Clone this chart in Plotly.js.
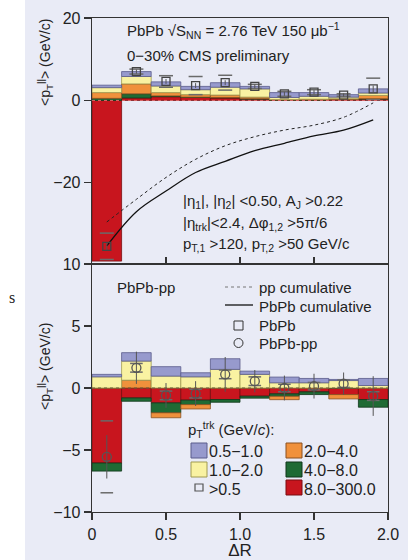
<!DOCTYPE html>
<html>
<head>
<meta charset="utf-8">
<script src="https://cdn.plot.ly/plotly-3.0.1.min.js"></script>
<style>html,body{margin:0;padding:0;background:#fff;}#chart{width:408px;height:560px;}</style>
</head>
<body>
<div id="chart"></div>
<script>
// ---- data ----
const dR = [0.1, 0.3, 0.5, 0.7, 0.9, 1.1, 1.3, 1.5, 1.7, 1.9];
const binLabels = ['0.5\u22121.0', '1.0\u22122.0', '2.0\u22124.0', '4.0\u22128.0', '8.0\u2212300.0'];

// top panel: PbPb, contributions per track-pT bin
const pbRed    = [-39.0, 0.6, 0.9, 0.7, 0.6, 0.3, 0.1, 0.1, 0.2, 0.3];
const pbGreen  = [0.5, 1.0, 0.2, 0.1, 0.1, 0.1, 0.0, 0.0, 0.0, 0.1];
const pbOrange = [1.4, 2.4, 0.8, 0.6, 0.6, 0.4, 0.1, 0.2, 0.2, 0.8];
const pbYellow = [1.2, 1.8, 1.6, 1.2, 1.9, 2.0, 0.5, 0.7, 0.4, 0.6];
const pbBlue   = [0.6, 1.2, 1.0, 0.8, 1.1, 0.6, 1.2, 0.9, 0.6, 1.0];
const pbTotal  = [-35.4, 7.0, 4.6, 3.6, 4.3, 3.4, 1.6, 2.0, 1.3, 2.8];
const pbStat   = [1.0, 0.5, 0.6, 0.6, 0.6, 0.5, 0.5, 0.5, 0.4, 0.8];
const pbSys    = [3.2, 0.6, 1.4, 2.2, 1.8, 0.5, 0.6, 0.6, 0.3, 2.6];
const ppCumul   = [-29.5, -24.0, -18.7, -14.3, -11.0, -8.8, -7.2, -6.0, -4.1, -0.6];
const pbCumul   = [-35.3, -27.0, -22.0, -17.5, -14.8, -12.2, -10.4, -8.6, -7.2, -4.7];

// bottom panel: PbPb - pp
const dRed    = [-6.05, -0.8, -1.2, -0.98, -0.93, -0.66, -0.47, -0.31, -0.53, -0.93];
const dGreen  = [-0.65, -0.27, -0.8, -0.36, -0.22, -0.16, -0.2, -0.22, 0.0, -0.62];
const dOrange = [0.0, 0.63, -0.4, -0.35, 0.0, 0.0, -0.27, 0.0, -0.35, 0.0];
const dYellow = [0.9, 1.54, 0.96, 0.9, 1.5, 1.1, 0.42, 0.42, 0.6, 0.2];
const dBlue   = [0.2, 0.68, 0.76, 0.33, 0.86, 0.26, 0.46, 0.35, 0.09, 0.57];
const dTotal  = [-5.55, 1.63, -0.6, -0.45, 1.1, 0.55, 0.0, 0.15, 0.35, -0.65];
const dStat   = [1.75, 1.3, 1.0, 1.0, 1.4, 0.9, 1.0, 1.0, 0.9, 1.6];
const dSys    = [2.9, 0.35, 0.35, 0.35, 0.35, 0.35, 0.3, 0.3, 0.3, 0.35];

// ---- styles ----
const FONT = 'Liberation Sans, Arial, sans-serif';
const BG = '#e9ebf6';
const TXT = '#222';
const col = {blue:'#979acd', yellow:'#f9f2a2', orange:'#f0913c', green:'#1f6a34', red:'#c8151e'};
const edge = {blue:'#5a5c8c', yellow:'#a09a50', orange:'#8a5020', green:'#10361a', red:'#7a0c10'};
const keys = ['blue', 'yellow', 'orange', 'green', 'red'];

// page geometry helpers (pixel -> paper) for layout decorations only
const L = 92, R = 20, T = 18, B = 48, W = 408, H = 560;
const PW = W - L - R, PH = H - T - B;
const px = p => (p - L) / PW;
const py = p => (H - B - p) / PH;

function bar(y, key, name, xa, ya) {
  return {type:'bar', x:dR, y:y, width:0.2, xaxis:xa, yaxis:ya, name:name,
    marker:{color:col[key], line:{color:edge[key], width:0.8}},
    showlegend:false, hoverinfo:'skip'};
}
const plus = (a,b)=>a.map((v,i)=>v+b[i]);
const minus = (a,b)=>a.map((v,i)=>v-b[i]);

const traces = [
  bar(pbRed, 'red', binLabels[4], 'x', 'y'),
  bar(pbGreen, 'green', binLabels[3], 'x', 'y'),
  bar(pbOrange, 'orange', binLabels[2], 'x', 'y'),
  bar(pbYellow, 'yellow', binLabels[1], 'x', 'y'),
  bar(pbBlue, 'blue', binLabels[0], 'x', 'y'),
  bar(dRed, 'red', binLabels[4], 'x2', 'y2'),
  bar(dGreen, 'green', binLabels[3], 'x2', 'y2'),
  bar(dOrange, 'orange', binLabels[2], 'x2', 'y2'),
  bar(dYellow, 'yellow', binLabels[1], 'x2', 'y2'),
  bar(dBlue, 'blue', binLabels[0], 'x2', 'y2'),
  {type:'scatter', mode:'lines', x:dR, y:ppCumul, xaxis:'x', yaxis:'y', name:'pp cumulative', showlegend:false,
    line:{color:'#222', width:1, dash:'dot', shape:'spline'}, hoverinfo:'skip'},
  {type:'scatter', mode:'lines', x:dR, y:pbCumul, xaxis:'x', yaxis:'y', name:'PbPb cumulative', showlegend:false,
    line:{color:'#111', width:1.3, shape:'spline'}, hoverinfo:'skip'},
  {type:'scatter', mode:'markers', x:dR.concat(dR), y:plus(pbTotal,pbSys).concat(minus(pbTotal,pbSys)),
    xaxis:'x', yaxis:'y', showlegend:false, hoverinfo:'skip',
    marker:{symbol:'line-ew-open', size:10, color:'#6a6a6a', line:{color:'#6a6a6a', width:1.5}}},
  {type:'scatter', mode:'markers', x:dR.concat(dR), y:plus(dTotal,dSys).concat(minus(dTotal,dSys)),
    xaxis:'x2', yaxis:'y2', showlegend:false, hoverinfo:'skip',
    marker:{symbol:'line-ew-open', size:9, color:'#6a6a6a', line:{color:'#6a6a6a', width:1.5}}},
  {type:'scatter', mode:'markers', x:dR, y:pbTotal, xaxis:'x', yaxis:'y', name:'PbPb', showlegend:false,
    error_y:{type:'data', array:pbStat, color:'#555', thickness:1, width:0},
    marker:{symbol:'square-open', size:8, color:'#444', line:{color:'#444', width:1.3}}, hoverinfo:'skip'},
  {type:'scatter', mode:'markers', x:dR, y:dTotal, xaxis:'x2', yaxis:'y2', name:'PbPb-pp', showlegend:false,
    error_y:{type:'data', array:dStat, color:'#555', thickness:1, width:0},
    marker:{symbol:'circle-open', size:9, color:'#555', line:{color:'#555', width:1.3}}, hoverinfo:'skip'}
];

const axisCommon = {showgrid:false, zeroline:false, showline:true, mirror:true, linecolor:'#333', linewidth:1.3,
  tickcolor:'#333', ticklen:7, tickwidth:1.3, tickfont:{family:FONT, size:16, color:TXT}};

// manual legend decorations
const shapes = [
  {type:'rect', xref:'paper', yref:'paper', x0:px(25), x1:px(410), y0:py(562), y1:py(-2),
    fillcolor:BG, line:{width:0}, layer:'below'},
  {type:'line', xref:'x', yref:'y', x0:0, x1:2, y0:0, y1:0, line:{color:'#e06a6a', width:1, dash:'dot'}, layer:'above'},
  {type:'line', xref:'x2', yref:'y2', x0:0, x1:2, y0:0, y1:0, line:{color:'#6a5a3a', width:1, dash:'dot'}, layer:'above'},
  // legend 1 symbols
  {type:'line', xref:'paper', yref:'paper', x0:px(225), x1:px(253), y0:py(287), y1:py(287), line:{color:'#777', width:1, dash:'dot'}},
  {type:'line', xref:'paper', yref:'paper', x0:px(225), x1:px(253), y0:py(305), y1:py(305), line:{color:'#111', width:1.3}},
  {type:'rect', xref:'paper', yref:'paper', x0:px(234), x1:px(243), y0:py(330), y1:py(321), line:{color:'#333', width:1}},
  {type:'circle', xref:'paper', yref:'paper', x0:px(234), x1:px(243), y0:py(347.5), y1:py(338.5), line:{color:'#333', width:1}},
  // legend 2: >0.5 symbol
  {type:'rect', xref:'paper', yref:'paper', x0:px(195), x1:px(203), y0:py(491), y1:py(484), line:{color:'#555', width:1.2}}
];
const swatchPos = [[191, 443], [191, 462], [286, 443], [286, 462], [286, 480]];
keys.forEach((k, i) => {
  const [x0, y0] = swatchPos[i];
  shapes.push({type:'rect', xref:'paper', yref:'paper', x0:px(x0), x1:px(x0 + 16), y0:py(y0 + 15), y1:py(y0),
    fillcolor:col[k], line:{color:edge[k], width:1}});
});

function txt(x, y, text, size, extra) {
  return Object.assign({xref:'paper', yref:'paper', x:px(x), y:py(y), xanchor:'left', yanchor:'middle',
    showarrow:false, text:text, font:{family:FONT, size:size, color:TXT}}, extra || {});
}

const annotations = [
  txt(125, 31, 'PbPb \u221AS<sub>NN</sub> = 2.76 TeV 150 \u03BCb<sup>\u22121</sup>', 15),
  txt(125, 56, '0\u221230% CMS preliminary', 15),
  txt(181, 201, '|\u03B7<sub>1</sub>|, |\u03B7<sub>2</sub>| <0.50, A<sub>J</sub> >0.22', 15),
  txt(181, 223, '|\u03B7<sub>trk</sub>|<2.4, \u0394\u03C6<sub>1,2</sub> >5\u03C0/6', 15),
  txt(181, 245, 'p<sub>T,1</sub> >120, p<sub>T,2</sub> >50 GeV/c', 15),
  txt(115, 288, 'PbPb-pp', 15),
  txt(257, 288, 'pp cumulative', 15),
  txt(257, 306, 'PbPb cumulative', 15),
  txt(257, 325, 'PbPb', 15),
  txt(257, 343, 'PbPb-pp', 15),
  txt(186, 429, 'p<sub>T</sub><sup>trk</sup> (GeV/<i>c</i>):', 15),
  txt(207, 451, binLabels[0], 16),
  txt(207, 470, binLabels[1], 16),
  txt(207, 489, '>0.5', 16),
  txt(302, 451, binLabels[2], 16),
  txt(302, 470, binLabels[3], 16),
  txt(302, 489, binLabels[4], 16),
  txt(57, 63, '<p<sub>T</sub><sup>||</sup>> (GeV/c)', 14, {xanchor:'right', textangle:-90}),
  txt(57, 367, '<p<sub>T</sub><sup>||</sup>> (GeV/c)', 14, {xanchor:'right', textangle:-90}),
  txt(12, 297, 's', 16, {xanchor:'center', font:{family:'Liberation Serif, serif', size:16, color:TXT}})
];

const layout = {
  width:W, height:H,
  margin:{l:L, r:R, t:T, b:B},
  paper_bgcolor:'#ffffff', plot_bgcolor:BG,
  barmode:'relative', bargap:0, showlegend:false,
  font:{family:FONT, color:TXT},
  xaxis:Object.assign({}, axisCommon, {domain:[0,1], anchor:'y', range:[0,2], ticks:'inside',
    tickvals:[0.5,1,1.5], showticklabels:false, matches:'x2'}),
  yaxis:Object.assign({}, axisCommon, {domain:[py(264),1], anchor:'x', range:[-39.7,20], ticks:'outside',
    tickvals:[-20,0,20]}),
  xaxis2:Object.assign({}, axisCommon, {domain:[0,1], anchor:'y2', range:[0,2], ticks:'outside',
    tickvals:[0,0.5,1,1.5,2], ticktext:['0','0.5','1.0','1.5','2.0'],
    title:{text:'\u0394R', font:{family:FONT, size:17, color:TXT}, standoff:4}}),
  yaxis2:Object.assign({}, axisCommon, {domain:[0,py(264)], anchor:'x2', range:[-10,10], ticks:'outside',
    tickvals:[-10,-5,0,5,10]}),
  shapes:shapes,
  annotations:annotations
};

Plotly.newPlot('chart', traces, layout, {displayModeBar:false, staticPlot:true});
</script>
</body>
</html>
